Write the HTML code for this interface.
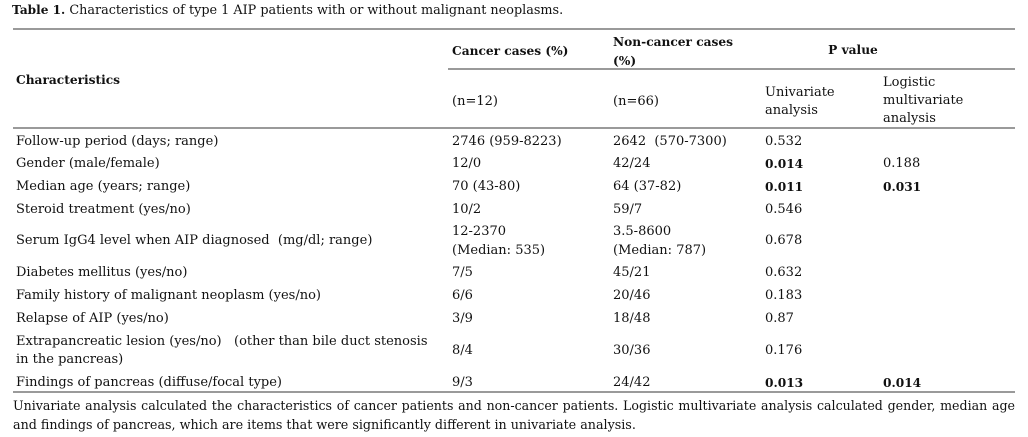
<!DOCTYPE html>
<html>
<head>
<meta charset="utf-8">
<style>
  html, body { margin:0; padding:0; background:#fff; }
  body { width:1028px; height:437px; position:relative; overflow:hidden;
         font-family:"DejaVu Serif","Liberation Serif",serif; color:#111; }
  .t { position:absolute; white-space:nowrap; font-size:13px; line-height:18px; }
  .b { font-weight:bold; font-size:12.2px; }
  .r { position:absolute; height:2px; background:#9a9a9a; }
</style>
</head>
<body>
  <!-- Title -->
  <div class="t" style="left:12px;top:1px;font-size:12.8px;"><b style="font-size:12.1px;">Table 1.</b> Characteristics of type 1 AIP patients with or without malignant neoplasms.</div>

  <!-- rules -->
  <div class="r" style="left:13px;width:1002px;top:28px;"></div>
  <div class="r" style="left:448px;width:567px;top:68px;"></div>
  <div class="r" style="left:13px;width:1002px;top:127px;"></div>
  <div class="r" style="left:13px;width:1002px;top:391px;"></div>

  <!-- Header -->
  <div class="t b" style="left:16px;top:70.5px;">Characteristics</div>
  <div class="t b" style="left:452px;top:42px;">Cancer cases (%)</div>
  <div class="t b" style="left:613px;top:33px;">Non-cancer cases</div>
  <div class="t b" style="left:613px;top:51.5px;">(%)</div>
  <div class="t b" style="left:753px;width:200px;text-align:center;top:41px;">P value</div>

  <div class="t" style="left:452px;top:92.5px;">(n=12)</div>
  <div class="t" style="left:613px;top:92.5px;">(n=66)</div>
  <div class="t" style="left:765px;top:83.5px;">Univariate</div>
  <div class="t" style="left:765px;top:101.5px;">analysis</div>
  <div class="t" style="left:883px;top:74px;">Logistic</div>
  <div class="t" style="left:883px;top:92px;">multivariate</div>
  <div class="t" style="left:883px;top:110px;">analysis</div>

  <!-- Rows -->
  <div class="t" style="left:16px;top:133px;">Follow-up period (days; range)</div>
  <div class="t" style="left:452px;top:133px;">2746 (959-8223)</div>
  <div class="t" style="left:613px;top:133px;">2642&nbsp; (570-7300)</div>
  <div class="t" style="left:765px;top:133px;">0.532</div>

  <div class="t" style="left:16px;top:155px;">Gender (male/female)</div>
  <div class="t" style="left:452px;top:155px;">12/0</div>
  <div class="t" style="left:613px;top:155px;">42/24</div>
  <div class="t b" style="left:765px;top:155px;">0.014</div>
  <div class="t" style="left:883px;top:155px;">0.188</div>

  <div class="t" style="left:16px;top:178px;">Median age (years; range)</div>
  <div class="t" style="left:452px;top:178px;">70 (43-80)</div>
  <div class="t" style="left:613px;top:178px;">64 (37-82)</div>
  <div class="t b" style="left:765px;top:178px;">0.011</div>
  <div class="t b" style="left:883px;top:178px;">0.031</div>

  <div class="t" style="left:16px;top:200.5px;">Steroid treatment (yes/no)</div>
  <div class="t" style="left:452px;top:200.5px;">10/2</div>
  <div class="t" style="left:613px;top:200.5px;">59/7</div>
  <div class="t" style="left:765px;top:200.5px;">0.546</div>

  <div class="t" style="left:16px;top:232px;">Serum IgG4 level when AIP diagnosed&nbsp; (mg/dl; range)</div>
  <div class="t" style="left:452px;top:223px;">12-2370</div>
  <div class="t" style="left:452px;top:241.5px;">(Median: 535)</div>
  <div class="t" style="left:613px;top:223px;">3.5-8600</div>
  <div class="t" style="left:613px;top:241.5px;">(Median: 787)</div>
  <div class="t" style="left:765px;top:232px;">0.678</div>

  <div class="t" style="left:16px;top:263.5px;">Diabetes mellitus (yes/no)</div>
  <div class="t" style="left:452px;top:263.5px;">7/5</div>
  <div class="t" style="left:613px;top:263.5px;">45/21</div>
  <div class="t" style="left:765px;top:263.5px;">0.632</div>

  <div class="t" style="left:16px;top:286.5px;">Family history of malignant neoplasm (yes/no)</div>
  <div class="t" style="left:452px;top:286.5px;">6/6</div>
  <div class="t" style="left:613px;top:286.5px;">20/46</div>
  <div class="t" style="left:765px;top:286.5px;">0.183</div>

  <div class="t" style="left:16px;top:310px;">Relapse of AIP (yes/no)</div>
  <div class="t" style="left:452px;top:310px;">3/9</div>
  <div class="t" style="left:613px;top:310px;">18/48</div>
  <div class="t" style="left:765px;top:310px;">0.87</div>

  <div class="t" style="left:16px;top:332.5px;">Extrapancreatic lesion (yes/no)&nbsp;&nbsp; (other than bile duct stenosis</div>
  <div class="t" style="left:16px;top:351px;">in the pancreas)</div>
  <div class="t" style="left:452px;top:342px;">8/4</div>
  <div class="t" style="left:613px;top:342px;">30/36</div>
  <div class="t" style="left:765px;top:342px;">0.176</div>

  <div class="t" style="left:16px;top:373.5px;">Findings of pancreas (diffuse/focal type)</div>
  <div class="t" style="left:452px;top:373.5px;">9/3</div>
  <div class="t" style="left:613px;top:373.5px;">24/42</div>
  <div class="t b" style="left:765px;top:373.5px;">0.013</div>
  <div class="t b" style="left:883px;top:373.5px;">0.014</div>

  <!-- Footnote -->
  <div class="t" style="left:13px;top:397px;width:1002px;font-size:12.6px;white-space:normal;text-align:justify;text-align-last:justify;height:18px;overflow:hidden;">Univariate analysis calculated the characteristics of cancer patients and non-cancer patients. Logistic multivariate analysis calculated gender, median age</div>
  <div class="t" style="left:13px;top:415.5px;font-size:12.7px;">and findings of pancreas, which are items that were significantly different in univariate analysis.</div>
</body>
</html>
